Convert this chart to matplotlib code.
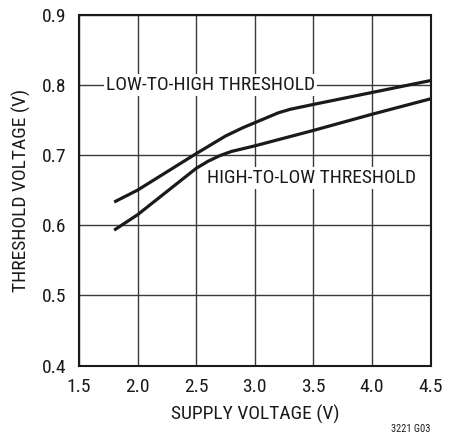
import matplotlib
matplotlib.use("Agg")
import matplotlib.pyplot as plt

plt.rcParams['font.family'] = ['Roboto Condensed', 'DejaVu Sans']

# data
low_high_x = [1.8, 2.0, 2.25, 2.5, 2.75, 2.9, 3.0, 3.1, 3.2, 3.3, 3.5, 4.0, 4.5]
low_high_y = [0.633, 0.650, 0.676, 0.702, 0.727, 0.739, 0.746, 0.753, 0.760, 0.765, 0.772, 0.789, 0.806]
high_low_x = [1.8, 2.0, 2.25, 2.5, 2.6, 2.7, 2.8, 2.9, 3.0, 3.5, 4.0, 4.5]
high_low_y = [0.593, 0.615, 0.648, 0.681, 0.691, 0.699, 0.705, 0.709, 0.713, 0.735, 0.758, 0.780]
xticks = [1.5, 2.0, 2.5, 3.0, 3.5, 4.0, 4.5]
yticks = [0.4, 0.5, 0.6, 0.7, 0.8, 0.9]

fig = plt.figure(figsize=(4.53, 4.37), dpi=100)
ax = fig.add_axes([79/453, 1-365.7/437, (430.7-79)/453, (365.7-14.5)/437])
ax.set_xlim(1.5, 4.5)
ax.set_ylim(0.4, 0.9)
ax.set_xticks(xticks)
ax.set_xticklabels([f"{v:.1f}" for v in xticks])
ax.set_yticks(yticks)
ax.set_yticklabels([f"{v:.1f}" for v in yticks])
ax.grid(True, color='#3a3a3a', linewidth=1.0)
ax.set_axisbelow(True)
ax.tick_params(length=0, labelsize=14, pad=9, colors='#1a1a1a')
for s in ax.spines.values():
    s.set_color('#1a1a1a')
    s.set_linewidth(1.5)

ax.plot(low_high_x, low_high_y, color='#1a1a1a', linewidth=2.3, solid_capstyle='butt', solid_joinstyle='round')
ax.plot(high_low_x, high_low_y, color='#1a1a1a', linewidth=2.3, solid_capstyle='butt', solid_joinstyle='round')

ax.text(1.73, 0.8, "LOW-TO-HIGH THRESHOLD", fontsize=14, ha='left', va='center',
        color='#1a1a1a', bbox=dict(facecolor='white', edgecolor='none', pad=1.5))
ax.text(2.59, 0.667, "HIGH-TO-LOW THRESHOLD", fontsize=14, ha='left', va='center',
        color='#1a1a1a', bbox=dict(facecolor='white', edgecolor='none', pad=1.5))

ax.set_xlabel("SUPPLY VOLTAGE (V)", fontsize=14, color='#1a1a1a', labelpad=6)
ax.set_ylabel("THRESHOLD VOLTAGE (V)", fontsize=14, color='#1a1a1a', labelpad=8)
fig.text(430/453, 1-429/437, "3221 G03", fontsize=7.5, ha='right', va='center', color='#1a1a1a')

fig.savefig("out.png", dpi=100)
